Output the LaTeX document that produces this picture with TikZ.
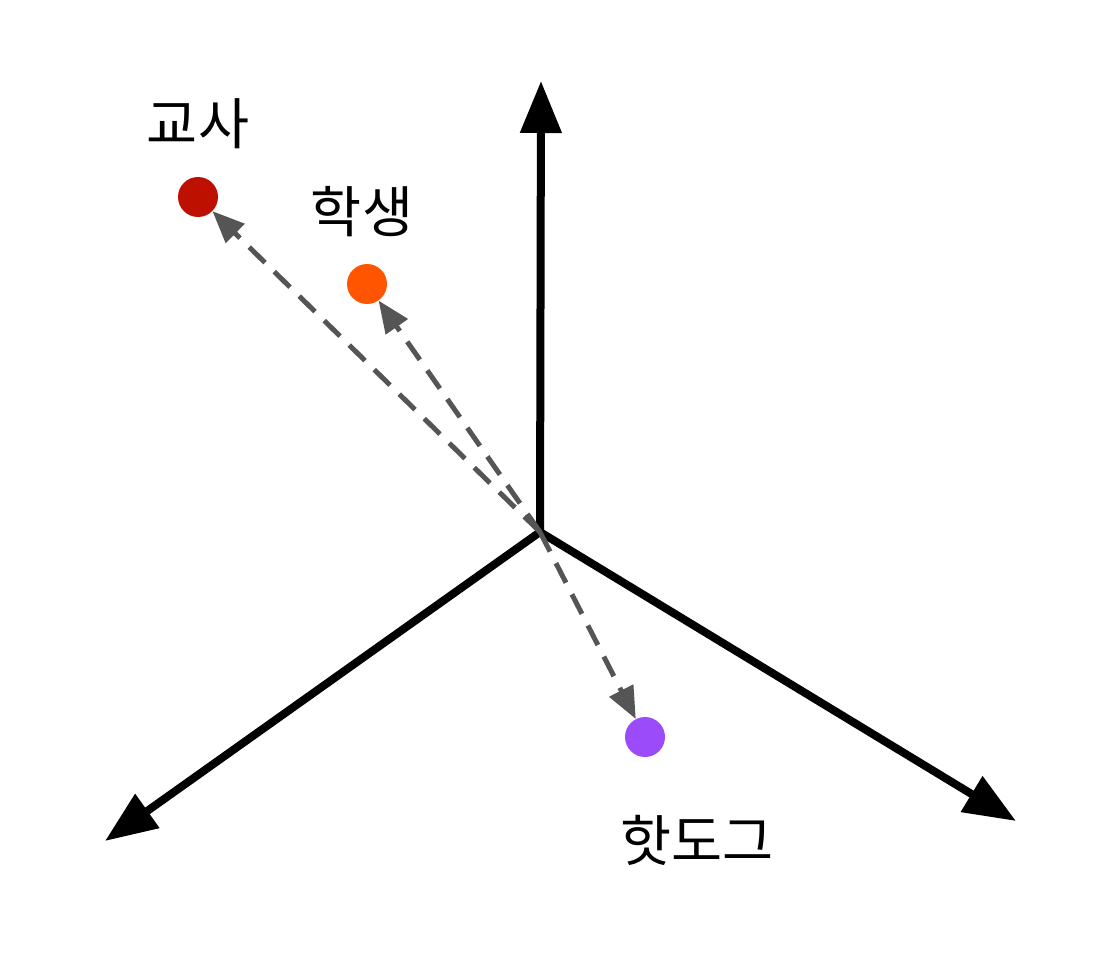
\documentclass[tikz,border=0pt]{standalone}
\usepackage{fontspec}
\newfontfamily\kr{Noto Sans CJK KR}
\usetikzlibrary{arrows.meta}
\definecolor{teacher}{RGB}{190,16,0}
\definecolor{student}{RGB}{255,85,0}
\definecolor{hotdog}{RGB}{155,75,250}
\definecolor{dashgray}{RGB}{85,85,85}
\begin{document}
\begin{tikzpicture}[x=1pt,y=-1pt,
  axis/.style={line width=8pt,-{Triangle[length=52pt,width=40pt]}},
  vec/.style={line width=5pt,dashgray,dash pattern=on 22pt off 13pt,-{Triangle[length=32pt,width=26pt]}},
  dot/.style={circle,inner sep=0pt,minimum size=40pt},
  lbl/.style={font=\kr\fontsize{55.5}{60}\selectfont,inner sep=0pt}]
\useasboundingbox (0,0) rectangle (1104,960);
\coordinate (o) at (540,532);
\coordinate (up) at (541,81);
\coordinate (left) at (105,841);
\coordinate (right) at (1016,821);
\draw[axis] (o) -- (up);
\draw[axis] (o) -- (left);
\draw[axis] (o) -- (right);
\node[dot,fill=teacher] (t) at (198,197) {};
\node[dot,fill=student] (s) at (367,284) {};
\node[dot,fill=hotdog] (h) at (645,737) {};
\draw[vec] (o) -- (t);
\draw[vec] (o) -- (s);
\draw[vec] (o) -- (h);
\node[lbl] (tl) at (198,124) {교사};
\node[lbl] (sl) at (362,212) {학생};
\node[lbl] (hl) at (697,840) {핫도그};
\end{tikzpicture}
\end{document}
